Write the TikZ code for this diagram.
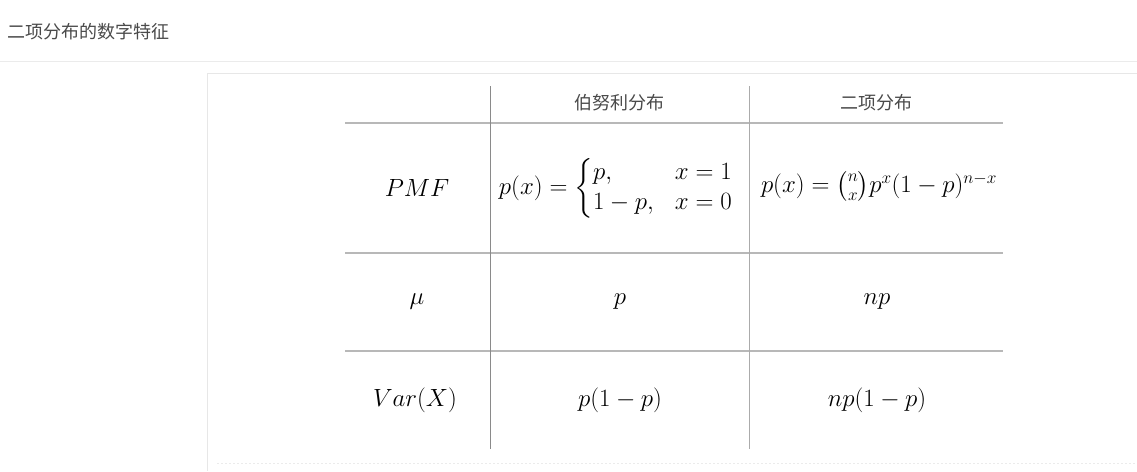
\documentclass[tikz,border=0pt]{standalone}
\usepackage{amsmath}
\usepackage{fontspec}
\newfontfamily\cjk{Noto Sans CJK SC}
\definecolor{titlegray}{HTML}{4A4A4A}
\definecolor{sepgray}{HTML}{EBEBEB}
\definecolor{rulegray}{HTML}{B8B8B8}
\definecolor{vgray}{HTML}{8A8A8A}
\definecolor{vgraylight}{HTML}{ABABAB}
\tikzset{
  cjktext/.style={inner sep=0pt, text=titlegray, font=\cjk\fontsize{18}{22}\selectfont},
  mathcell/.style={inner sep=0pt, text=black, font=\fontsize{24.3}{25}\selectfont},
  hrule/.style={draw=rulegray, line width=1.5pt},
  vrule/.style={draw=vgray, line width=1pt},
}
\begin{document}
\begin{tikzpicture}[x=1pt,y=-1pt]
\useasboundingbox (0,0) rectangle (1137,471);
\fill[white] (0,0) rectangle (1137,471);
% title and separator
\node[cjktext, anchor=west] (title) at (7,32) {二项分布的数字特征};
\draw[sepgray, line width=1pt] (0,61.5) -- (1137,61.5);
% panel
\draw[sepgray!120, line width=1pt] (207.5,471) -- (207.5,73.5) -- (1137,73.5);
\draw[sepgray, line width=1pt, dash pattern=on 2pt off 2pt] (217,463) -- (1137,463);
% table rules
\draw[hrule] (345,123) -- (1003,123);
\draw[hrule] (345,253) -- (1003,253);
\draw[hrule] (345,351) -- (1003,351);
\draw[vrule] (490.5,86) -- (490.5,449);
\draw[vrule, draw=vgraylight] (749.5,86) -- (749.5,449);
% header
\node[cjktext] (h1) at (619.5,103) {伯努利分布};
\node[cjktext] (h2) at (876,103) {二项分布};
% row 1
\node[mathcell] (pmf) at (417,188) {$PMF$};
\node[mathcell] (bern) at (616,188) {$p(x)=\left\{\renewcommand\arraystretch{1.2}\begin{array}{@{}l@{\hspace{21pt}}l@{}} p, & x=1\\ 1-p, & x=0\end{array}\right.$};
\node[mathcell] (binom) at (879,186) {$p(x)=\binom{n}{x}p^x(1-p)^{n-x}$};
% row 2
\node[mathcell] (mu) at (417,302) {$\mu$};
\node[mathcell] (mub) at (620,302) {$p$};
\node[mathcell] (mun) at (877,302) {$np$};
% row 3
\node[mathcell] (var) at (415,400) {$Var(X)$};
\node[mathcell] (varb) at (620,400) {$p(1-p)$};
\node[mathcell] (varn) at (877,400) {$np(1-p)$};
\end{tikzpicture}
\end{document}
